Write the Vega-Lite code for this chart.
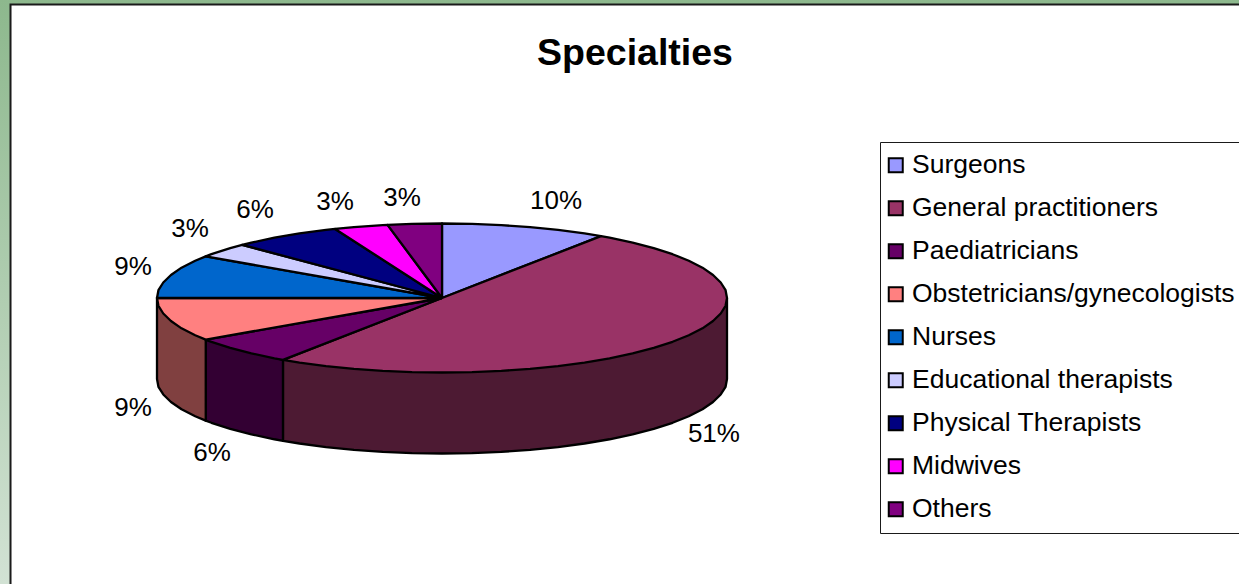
{"$schema":"https://vega.github.io/schema/vega-lite/v6.json","width":1239,"height":584,"padding":0,"autosize":"none","background":"#ffffff","view":{"stroke":null},"title":{"text":"Specialties","font":"Liberation Sans","fontSize":37.5,"fontWeight":"bold","color":"#000000","anchor":"middle","baseline":"alphabetic","offset":0,"dx":15.5,"dy":102},"datasets":{"panels":[{"part":"backdrop","x":-1.5509,"x2":2.7965,"y":4,"y2":-3.8389}],"sheet":[{"part":"chart area","x":-1.514,"x2":2.85,"y":3.94,"y2":-3.95}],"labels":[{"slice":"Surgeons","share":0.10,"x":0.4,"y":1.302},{"slice":"General practitioners","share":0.51,"x":0.954,"y":-1.826},{"slice":"Paediatricians","share":0.06,"x":-0.807,"y":-2.081},{"slice":"Obstetricians/gynecologists","share":0.09,"x":-1.084,"y":-1.477},{"slice":"Nurses","share":0.09,"x":-1.084,"y":0.416},{"slice":"Educational therapists","share":0.03,"x":-0.884,"y":0.926},{"slice":"Physical Therapists","share":0.06,"x":-0.656,"y":1.181},{"slice":"Midwives","share":0.03,"x":-0.375,"y":1.289},{"slice":"Others","share":0.03,"x":-0.14,"y":1.342}],"walls":[{"slice":"General practitioners","i":0,"x":1,"y":0},{"slice":"General practitioners","i":1,"x":-0.558,"y":-0.83},{"slice":"General practitioners","i":2,"x":-0.558,"y":-1.917},{"slice":"General practitioners","i":3,"x":-0.5,"y":-1.953},{"slice":"General practitioners","i":4,"x":-0.407,"y":-2.001},{"slice":"General practitioners","i":5,"x":-0.309,"y":-2.038},{"slice":"General practitioners","i":6,"x":-0.208,"y":-2.065},{"slice":"General practitioners","i":7,"x":-0.105,"y":-2.082},{"slice":"General practitioners","i":8,"x":0,"y":-2.087},{"slice":"General practitioners","i":9,"x":0.105,"y":-2.082},{"slice":"General practitioners","i":10,"x":0.208,"y":-2.065},{"slice":"General practitioners","i":11,"x":0.309,"y":-2.038},{"slice":"General practitioners","i":12,"x":0.407,"y":-2.001},{"slice":"General practitioners","i":13,"x":0.5,"y":-1.953},{"slice":"General practitioners","i":14,"x":0.588,"y":-1.896},{"slice":"General practitioners","i":15,"x":0.669,"y":-1.83},{"slice":"General practitioners","i":16,"x":0.743,"y":-1.756},{"slice":"General practitioners","i":17,"x":0.809,"y":-1.675},{"slice":"General practitioners","i":18,"x":0.866,"y":-1.587},{"slice":"General practitioners","i":19,"x":0.914,"y":-1.494},{"slice":"General practitioners","i":20,"x":0.951,"y":-1.396},{"slice":"General practitioners","i":21,"x":0.978,"y":-1.295},{"slice":"General practitioners","i":22,"x":0.995,"y":-1.192},{"slice":"General practitioners","i":23,"x":1,"y":-1.087},{"slice":"General practitioners","i":24,"x":1,"y":0},{"slice":"Paediatricians","i":0,"x":-0.558,"y":-0.83},{"slice":"Paediatricians","i":1,"x":-0.829,"y":-0.559},{"slice":"Paediatricians","i":2,"x":-0.829,"y":-1.646},{"slice":"Paediatricians","i":3,"x":-0.809,"y":-1.675},{"slice":"Paediatricians","i":4,"x":-0.743,"y":-1.756},{"slice":"Paediatricians","i":5,"x":-0.669,"y":-1.83},{"slice":"Paediatricians","i":6,"x":-0.588,"y":-1.896},{"slice":"Paediatricians","i":7,"x":-0.558,"y":-1.917},{"slice":"Paediatricians","i":8,"x":-0.558,"y":-0.83},{"slice":"Obstetricians/gynecologists","i":0,"x":-0.829,"y":-0.559},{"slice":"Obstetricians/gynecologists","i":1,"x":-1,"y":0},{"slice":"Obstetricians/gynecologists","i":2,"x":-1,"y":-1.087},{"slice":"Obstetricians/gynecologists","i":3,"x":-0.995,"y":-1.192},{"slice":"Obstetricians/gynecologists","i":4,"x":-0.978,"y":-1.295},{"slice":"Obstetricians/gynecologists","i":5,"x":-0.951,"y":-1.396},{"slice":"Obstetricians/gynecologists","i":6,"x":-0.914,"y":-1.494},{"slice":"Obstetricians/gynecologists","i":7,"x":-0.866,"y":-1.587},{"slice":"Obstetricians/gynecologists","i":8,"x":-0.829,"y":-1.646},{"slice":"Obstetricians/gynecologists","i":9,"x":-0.829,"y":-0.559}],"tops":[{"slice":"Surgeons","i":0,"x":0,"y":0},{"slice":"Surgeons","i":1,"x":0,"y":1},{"slice":"Surgeons","i":2,"x":0.105,"y":0.995},{"slice":"Surgeons","i":3,"x":0.208,"y":0.978},{"slice":"Surgeons","i":4,"x":0.309,"y":0.951},{"slice":"Surgeons","i":5,"x":0.407,"y":0.914},{"slice":"Surgeons","i":6,"x":0.5,"y":0.866},{"slice":"Surgeons","i":7,"x":0.558,"y":0.83},{"slice":"Surgeons","i":8,"x":0,"y":0},{"slice":"General practitioners","i":0,"x":0,"y":0},{"slice":"General practitioners","i":1,"x":0.558,"y":0.83},{"slice":"General practitioners","i":2,"x":0.588,"y":0.809},{"slice":"General practitioners","i":3,"x":0.669,"y":0.743},{"slice":"General practitioners","i":4,"x":0.743,"y":0.669},{"slice":"General practitioners","i":5,"x":0.809,"y":0.588},{"slice":"General practitioners","i":6,"x":0.866,"y":0.5},{"slice":"General practitioners","i":7,"x":0.914,"y":0.407},{"slice":"General practitioners","i":8,"x":0.951,"y":0.309},{"slice":"General practitioners","i":9,"x":0.978,"y":0.208},{"slice":"General practitioners","i":10,"x":0.995,"y":0.105},{"slice":"General practitioners","i":11,"x":1,"y":0},{"slice":"General practitioners","i":12,"x":0.995,"y":-0.105},{"slice":"General practitioners","i":13,"x":0.978,"y":-0.208},{"slice":"General practitioners","i":14,"x":0.951,"y":-0.309},{"slice":"General practitioners","i":15,"x":0.914,"y":-0.407},{"slice":"General practitioners","i":16,"x":0.866,"y":-0.5},{"slice":"General practitioners","i":17,"x":0.809,"y":-0.588},{"slice":"General practitioners","i":18,"x":0.743,"y":-0.669},{"slice":"General practitioners","i":19,"x":0.669,"y":-0.743},{"slice":"General practitioners","i":20,"x":0.588,"y":-0.809},{"slice":"General practitioners","i":21,"x":0.5,"y":-0.866},{"slice":"General practitioners","i":22,"x":0.407,"y":-0.914},{"slice":"General practitioners","i":23,"x":0.309,"y":-0.951},{"slice":"General practitioners","i":24,"x":0.208,"y":-0.978},{"slice":"General practitioners","i":25,"x":0.105,"y":-0.995},{"slice":"General practitioners","i":26,"x":0,"y":-1},{"slice":"General practitioners","i":27,"x":-0.105,"y":-0.995},{"slice":"General practitioners","i":28,"x":-0.208,"y":-0.978},{"slice":"General practitioners","i":29,"x":-0.309,"y":-0.951},{"slice":"General practitioners","i":30,"x":-0.407,"y":-0.914},{"slice":"General practitioners","i":31,"x":-0.5,"y":-0.866},{"slice":"General practitioners","i":32,"x":-0.558,"y":-0.83},{"slice":"General practitioners","i":33,"x":0,"y":0},{"slice":"Paediatricians","i":0,"x":0,"y":0},{"slice":"Paediatricians","i":1,"x":-0.558,"y":-0.83},{"slice":"Paediatricians","i":2,"x":-0.588,"y":-0.809},{"slice":"Paediatricians","i":3,"x":-0.669,"y":-0.743},{"slice":"Paediatricians","i":4,"x":-0.743,"y":-0.669},{"slice":"Paediatricians","i":5,"x":-0.809,"y":-0.588},{"slice":"Paediatricians","i":6,"x":-0.829,"y":-0.559},{"slice":"Paediatricians","i":7,"x":0,"y":0},{"slice":"Obstetricians/gynecologists","i":0,"x":0,"y":0},{"slice":"Obstetricians/gynecologists","i":1,"x":-0.829,"y":-0.559},{"slice":"Obstetricians/gynecologists","i":2,"x":-0.866,"y":-0.5},{"slice":"Obstetricians/gynecologists","i":3,"x":-0.914,"y":-0.407},{"slice":"Obstetricians/gynecologists","i":4,"x":-0.951,"y":-0.309},{"slice":"Obstetricians/gynecologists","i":5,"x":-0.978,"y":-0.208},{"slice":"Obstetricians/gynecologists","i":6,"x":-0.995,"y":-0.105},{"slice":"Obstetricians/gynecologists","i":7,"x":-1,"y":0},{"slice":"Obstetricians/gynecologists","i":8,"x":0,"y":0},{"slice":"Nurses","i":0,"x":0,"y":0},{"slice":"Nurses","i":1,"x":-1,"y":0},{"slice":"Nurses","i":2,"x":-0.995,"y":0.105},{"slice":"Nurses","i":3,"x":-0.978,"y":0.208},{"slice":"Nurses","i":4,"x":-0.951,"y":0.309},{"slice":"Nurses","i":5,"x":-0.914,"y":0.407},{"slice":"Nurses","i":6,"x":-0.866,"y":0.5},{"slice":"Nurses","i":7,"x":-0.829,"y":0.559},{"slice":"Nurses","i":8,"x":0,"y":0},{"slice":"Educational therapists","i":0,"x":0,"y":0},{"slice":"Educational therapists","i":1,"x":-0.829,"y":0.559},{"slice":"Educational therapists","i":2,"x":-0.809,"y":0.588},{"slice":"Educational therapists","i":3,"x":-0.743,"y":0.669},{"slice":"Educational therapists","i":4,"x":-0.701,"y":0.713},{"slice":"Educational therapists","i":5,"x":0,"y":0},{"slice":"Physical Therapists","i":0,"x":0,"y":0},{"slice":"Physical Therapists","i":1,"x":-0.701,"y":0.713},{"slice":"Physical Therapists","i":2,"x":-0.669,"y":0.743},{"slice":"Physical Therapists","i":3,"x":-0.588,"y":0.809},{"slice":"Physical Therapists","i":4,"x":-0.5,"y":0.866},{"slice":"Physical Therapists","i":5,"x":-0.407,"y":0.914},{"slice":"Physical Therapists","i":6,"x":-0.375,"y":0.927},{"slice":"Physical Therapists","i":7,"x":0,"y":0},{"slice":"Midwives","i":0,"x":0,"y":0},{"slice":"Midwives","i":1,"x":-0.375,"y":0.927},{"slice":"Midwives","i":2,"x":-0.309,"y":0.951},{"slice":"Midwives","i":3,"x":-0.208,"y":0.978},{"slice":"Midwives","i":4,"x":-0.191,"y":0.982},{"slice":"Midwives","i":5,"x":0,"y":0},{"slice":"Others","i":0,"x":0,"y":0},{"slice":"Others","i":1,"x":-0.191,"y":0.982},{"slice":"Others","i":2,"x":-0.105,"y":0.995},{"slice":"Others","i":3,"x":0,"y":1},{"slice":"Others","i":4,"x":0,"y":0}]},"encoding":{"x":{"field":"x","type":"quantitative","axis":null,"scale":{"domain":[-1.5509,2.7965],"nice":false,"zero":false}},"y":{"field":"y","type":"quantitative","axis":null,"scale":{"domain":[-3.8389,4],"nice":false,"zero":false}}},"layer":[{"data":{"name":"panels"},"mark":{"type":"rect","fill":{"gradient":"linear","x1":0,"y1":0,"x2":0,"y2":1,"stops":[{"offset":0,"color":"#8DB88D"},{"offset":1,"color":"#D2E2D4"}]}},"encoding":{"x2":{"field":"x2"},"y2":{"field":"y2"}}},{"data":{"name":"sheet"},"mark":{"type":"rect","fill":"#ffffff","stroke":"#1a1a1a","strokeWidth":2},"encoding":{"x2":{"field":"x2"},"y2":{"field":"y2"}}},{"data":{"name":"walls"},"mark":{"type":"line","stroke":"#000000","strokeWidth":2.3,"strokeJoin":"round"},"encoding":{"order":{"field":"i","type":"quantitative"},"fill":{"field":"slice","type":"nominal","legend":null,"scale":{"domain":["General practitioners","Paediatricians","Obstetricians/gynecologists"],"range":["#4D1A33","#330033","#804040"]}}}},{"data":{"name":"tops"},"mark":{"type":"line","stroke":"#000000","strokeWidth":2.3,"strokeJoin":"round"},"encoding":{"order":{"field":"i","type":"quantitative"},"fill":{"field":"slice","type":"nominal","scale":{"domain":["Surgeons","General practitioners","Paediatricians","Obstetricians/gynecologists","Nurses","Educational therapists","Physical Therapists","Midwives","Others"],"range":["#9999FF","#993366","#660066","#FF8080","#0066CC","#CCCCFF","#000080","#FF00FF","#800080"]},"legend":{"title":null,"orient":"none","legendX":880,"legendY":142,"symbolType":"square","symbolSize":196,"symbolStrokeWidth":2,"symbolStrokeColor":"#000000","symbolOpacity":1,"symbolOffset":-7.5,"labelFont":"Liberation Sans","labelFontSize":26.5,"labelColor":"#000000","labelLimit":400,"labelOffset":3,"rowPadding":16,"strokeColor":"#1a1a1a","fillColor":"#ffffff","padding":10}}}},{"data":{"name":"labels"},"mark":{"type":"text","font":"Liberation Sans","fontSize":26,"color":"#000000","align":"center","baseline":"middle"},"encoding":{"text":{"field":"share","type":"quantitative","format":".0%"}}}],"resolve":{"scale":{"fill":"independent"}}}
